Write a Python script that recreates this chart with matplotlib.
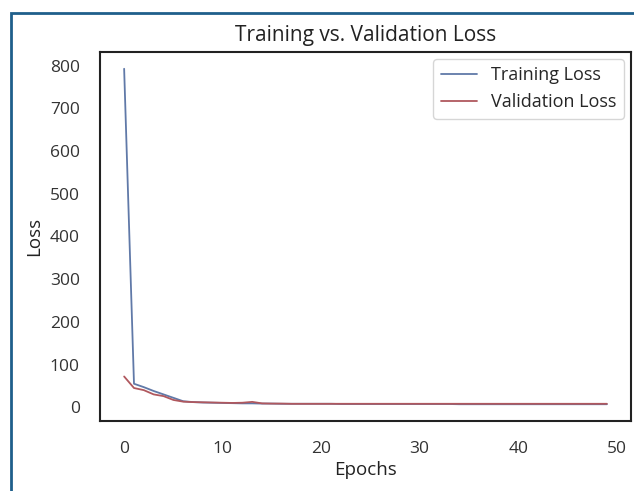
import matplotlib
matplotlib.use("Agg")
import matplotlib.pyplot as plt
import seaborn as sns
from matplotlib.patches import Rectangle

sns.set_style("white")
plt.rcParams['font.family'] = ['Open Sans', 'DejaVu Sans']

epochs = list(range(50))
train_loss = [793, 55, 47, 38, 30, 22, 14, 12, 11, 10.5,
              10, 9.5, 9, 9, 8.5, 8.5, 8, 8, 8, 8,
              8, 8, 7.5, 7.5, 7.5, 7.5, 7.5, 7.5, 7.5, 7.5,
              7.5, 7.5, 7.5, 7.5, 7, 7, 7, 7, 7, 7,
              7, 7, 7, 7, 7, 7, 7, 7, 7, 7]
val_loss = [72, 45, 40, 30, 26, 17, 13, 12, 11.5, 11,
            10.5, 10, 10.5, 12.5, 9, 8.5, 8.5, 8, 8, 8,
            8, 8, 8, 8, 8, 8, 8, 8, 8, 8,
            8, 8, 8, 8, 8, 8, 8, 8, 8, 8,
            8, 8, 8, 8, 8, 8, 8, 8, 8, 8]

fig = plt.figure(figsize=(6.34, 4.91), dpi=100)
ax = fig.add_axes([100 / 634, 1 - 421 / 491, 531 / 634, 369 / 491])

ax.plot(epochs, train_loss, color='#6079A8', lw=1.3, label='Training Loss')
ax.plot(epochs, val_loss, color='#B0585E', lw=1.3, label='Validation Loss')

ax.set_title("Training vs. Validation Loss", fontsize=15, color='#222222', pad=8)
ax.set_xlabel("Epochs", fontsize=13.5, color='#222222', labelpad=3)
ax.set_ylabel("Loss", fontsize=13.5, color='#222222', labelpad=5)
ax.tick_params(labelsize=12.5, colors='#333333', pad=11)
ax.set_xticks([0, 10, 20, 30, 40, 50])
ax.legend(loc='upper right', fontsize=13, handlelength=2.0, borderaxespad=0.4)
for s in ax.spines.values():
    s.set_color('#222222')
    s.set_linewidth(1.5)

fig.patches.append(Rectangle((11 / 634, -0.05), 1.0, 1 - 13 / 491 + 0.05,
                             transform=fig.transFigure, fill=False,
                             edgecolor='#1F5F8B', linewidth=2, zorder=-1))

fig.savefig("out.png", dpi=100)
